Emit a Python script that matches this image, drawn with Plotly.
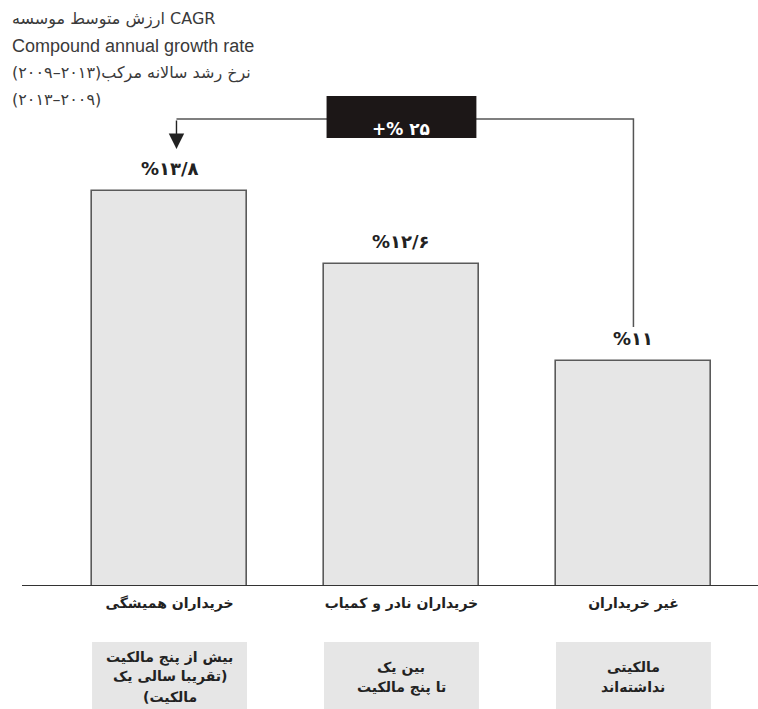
import plotly.graph_objects as go

# ---- data ----
categories = ["خریداران همیشگی", "خریداران نادر و کمیاب", "غیر خریداران"]
values = [13.8, 12.6, 11.0]
box_texts = [
    ["بیش از پنج مالکیت", "(تقریبا سالی یک", "مالکیت)"],
    ["بین یک", "تا پنج مالکیت"],
    ["مالکیتی", "نداشته‌اند"],
]
title_lines = [
    "ارزش متوسط موسسه CAGR",
    "Compound annual growth rate",
    "نرخ رشد سالانه مرکب(۲۰۱۳–۲۰۰۹)",
    "(۲۰۱۳–۲۰۰۹)",
]

LRM, RLM = "\u200e", "\u200f"
fa = str.maketrans("0123456789.", "۰۱۲۳۴۵۶۷۸۹/")


def to_fa(v):
    return f"{v:g}".translate(fa)


def rtl(s):
    return RLM + s + RLM


def ltr(s):
    return LRM + s + LRM


value_labels = [ltr("%" + to_fa(v)) for v in values]
diff_pct = round((values[0] / values[-1] - 1) * 100)
diff_label = ltr("+% " + to_fa(diff_pct))

# ---- layout geometry (pixels) ----
W, H = 758, 709
ML, MR, MT, MB = 22, 0, 0, 124
PW, PH = W - ML - MR, H - MT - MB
Y0, PXU = 7.32, 60.78  # axis start value, pixels per unit
yr = [Y0, Y0 + PH / PXU]


def py(ypix):  # pixel y -> paper y
    return (H - MB - ypix) / PH


def px(xpix):
    return (xpix - ML) / PW


PERSIAN = "DejaVu Sans"
bar_w = 0.668

fig = go.Figure()
fig.add_trace(go.Bar(
    x=categories, y=values, width=bar_w,
    marker=dict(color="#e6e6e6", line=dict(color="#5a5a5a", width=1.6)),
    hoverinfo="skip", showlegend=False,
))

annotations = []
shapes = []

# value labels above bars
for c, v, lab in zip(categories, values, value_labels):
    annotations.append(dict(
        x=c, y=v, xref="x", yref="y", text=lab, showarrow=False,
        yshift=23, font=dict(family=PERSIAN, size=18, color="#222", weight="bold"),
    ))

# boxes below axis
for i, (c, t) in enumerate(zip(categories, box_texts)):
    shapes.append(dict(
        type="rect", xref="x", yref="paper",
        x0=i - bar_w / 2, x1=i + bar_w / 2, y0=py(642), y1=py(712),
        fillcolor="#e6e6e6", line=dict(width=0), layer="below",
    ))
    n = len(t)
    for j, s in enumerate(t):
        annotations.append(dict(
            x=c, y=py(677 + (j - (n - 1) / 2) * 20), xref="x", yref="paper",
            text=rtl(s), showarrow=False, yanchor="middle",
            font=dict(family=PERSIAN, size=14, color="#222", weight="bold"),
        ))

# connector
line_y = py(119)
shapes.append(dict(
    type="path", xref="x", yref="paper",
    path=f"M 0.03 {line_y} L 2 {line_y} L 2 {py(327)}",
    line=dict(color="#555", width=1.5),
))
annotations.append(dict(
    x=0.03, y=py(149), xref="x", yref="paper", text="", showarrow=True,
    ax=0, ay=-30, arrowhead=2, arrowsize=2.2, arrowwidth=1.4, arrowcolor="#222",
))
shapes.append(dict(
    type="rect", xref="x", yref="paper",
    x0=1 - 0.323, x1=1 + 0.323, y0=py(138), y1=py(96),
    fillcolor="#1c1717", line=dict(width=0),
))
annotations.append(dict(
    x=1, y=py(117), xref="x", yref="paper", text=diff_label, showarrow=False,
    font=dict(family=PERSIAN, size=17, color="white", weight="bold"),
))

# title lines
title_y = [19, 46, 73, 100]
title_fonts = [
    dict(family=PERSIAN, size=16, color="#3a3a3a"),
    dict(family="Liberation Sans", size=18, color="#3a3a3a"),
    dict(family=PERSIAN, size=16, color="#3a3a3a"),
    dict(family=PERSIAN, size=16, color="#3a3a3a"),
]
title_dirs = [rtl, ltr, rtl, ltr]
for t, yy, f, d in zip(title_lines, title_y, title_fonts, title_dirs):
    annotations.append(dict(
        x=px(10), y=py(yy), xref="paper", yref="paper", text=d(t),
        showarrow=False, xanchor="left", yanchor="middle", font=f,
    ))

fig.update_layout(
    width=W, height=H,
    margin=dict(l=ML, r=MR, t=MT, b=MB),
    paper_bgcolor="white", plot_bgcolor="white",
    xaxis=dict(
        range=[-0.636, 2.537], showline=True, linecolor="#333", linewidth=1.3,
        showgrid=False, zeroline=False, ticks="",
        tickvals=categories, ticktext=[rtl(c) for c in categories],
        tickfont=dict(family=PERSIAN, size=14, color="#222", weight="bold"),
        ticklabelstandoff=5, fixedrange=True,
    ),
    yaxis=dict(range=yr, visible=False, fixedrange=True),
    shapes=shapes, annotations=annotations,
    bargap=0,
)

fig.write_html(
    "out.html",
    config={"displayModeBar": False},
    post_script="document.body.style.margin='0';",
)
